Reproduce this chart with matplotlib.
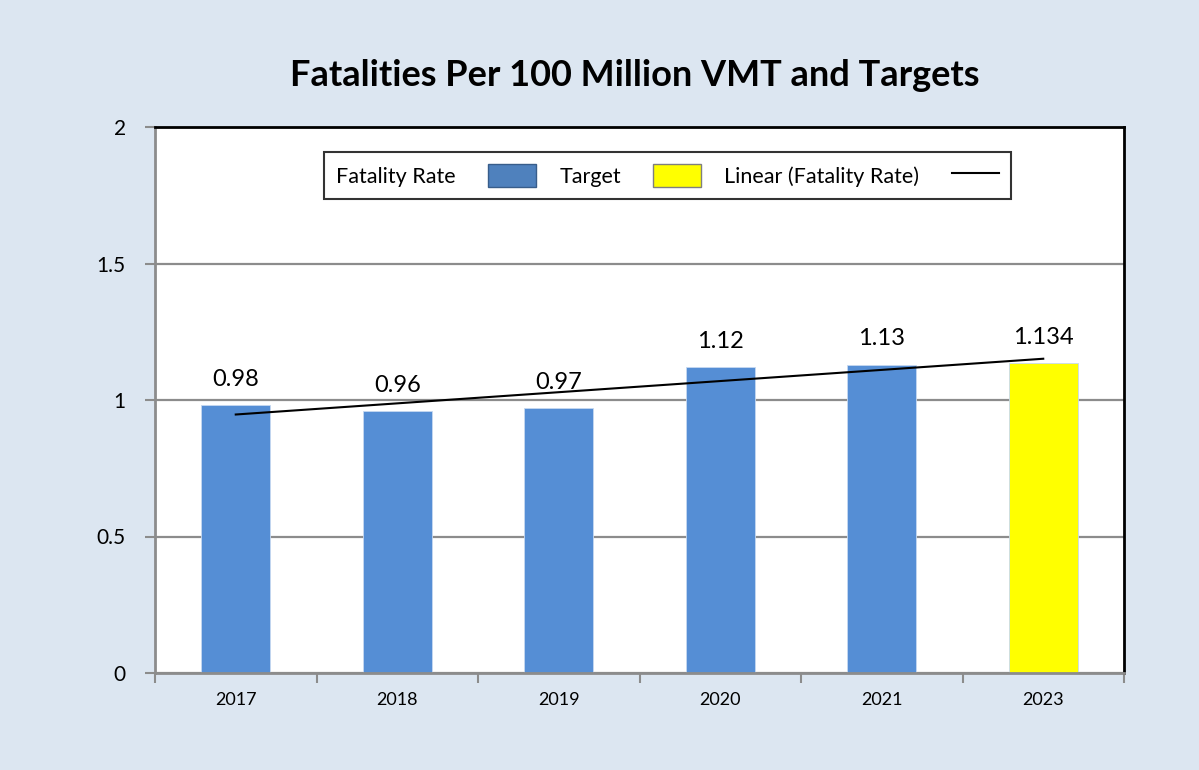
import numpy as np
import matplotlib.pyplot as plt
from matplotlib.patches import Patch
from matplotlib.lines import Line2D

plt.rcParams['font.family'] = ['Lato', 'DejaVu Sans']

years = ['2017', '2018', '2019', '2020', '2021', '2023']
rates = [0.98, 0.96, 0.97, 1.12, 1.13, 1.134]
labels = ['0.98', '0.96', '0.97', '1.12', '1.13', '1.134']
is_target = [False, False, False, False, False, True]

blue = '#558ED5'
yellow = '#FFFF00'
bg = '#DCE6F1'

fig = plt.figure(figsize=(11.99, 7.70), dpi=100, facecolor=bg)
ax = fig.add_axes([155 / 1199, 97 / 770, 969 / 1199, 546 / 770])
ax.set_facecolor('white')

x = np.arange(len(years))
colors = [yellow if t else blue for t in is_target]
ax.bar(x, rates, width=0.43, color=colors, edgecolor='#C6D9F1', linewidth=0.6, zorder=2)

# trend line over all points (linear fit)
slope, icept = np.polyfit(x + 1, rates, 1)
ax.plot(x, slope * (x + 1) + icept, color='black', lw=1.5, zorder=3)

for xi, v, lab in zip(x, rates, labels):
    ax.text(xi, v + 0.055, lab, ha='center', va='bottom', fontsize=17, zorder=4)

ax.set_xlim(-0.5, len(years) - 0.5)
ax.set_ylim(0, 2)
ax.set_yticks([0, 0.5, 1, 1.5, 2])
ax.set_yticklabels(['0', '0.5', '1', '1.5', '2'], fontsize=15)
ax.yaxis.grid(True, color='#8C8C8C', lw=1.6, zorder=1)
ax.set_axisbelow(True)

ax.set_xticks(np.arange(-0.5, len(years)), minor=False)
ax.set_xticklabels([])
ax.set_xticks(x, minor=True)
ax.set_xticklabels(years, minor=True, fontsize=13)
ax.tick_params(axis='x', which='major', length=7, width=1.5, color='#8C8C8C', direction='out')
ax.tick_params(axis='x', which='minor', length=0, pad=14)
ax.tick_params(axis='y', length=7, width=1.5, color='#8C8C8C', pad=14)

ax.spines['left'].set_color('#8C8C8C')
ax.spines['bottom'].set_color('#8C8C8C')
ax.spines['left'].set_linewidth(2)
ax.spines['bottom'].set_linewidth(2)
ax.spines['top'].set_color('black')
ax.spines['right'].set_color('black')
ax.spines['top'].set_linewidth(2)
ax.spines['right'].set_linewidth(2)

handles = [Patch(facecolor='#4F81BD', edgecolor='#385D8A'),
           Patch(facecolor=yellow, edgecolor='#7F7F7F'),
           Line2D([0], [0], color='black', lw=1.5)]
leg = ax.legend(handles, ['Fatality Rate', 'Target', 'Linear (Fatality Rate)'],
                ncol=3, markerfirst=False, loc='upper center', bbox_to_anchor=(0.529, 0.954),
                borderaxespad=0, fontsize=15.5, frameon=True, fancybox=False, edgecolor='black',
                handlelength=2.2, handleheight=1.3, columnspacing=1.1, handletextpad=1.5,
                borderpad=0.55)
leg.get_frame().set_linewidth(1.5)
leg.set_zorder(5)

fig.text(0.5 * (288 + 982) / 1199, 1 - 75 / 770, 'Fatalities Per 100 Million VMT and Targets',
         ha='center', va='center', fontsize=26, fontweight='bold')

fig.savefig('out.png', dpi=100, facecolor=bg)
